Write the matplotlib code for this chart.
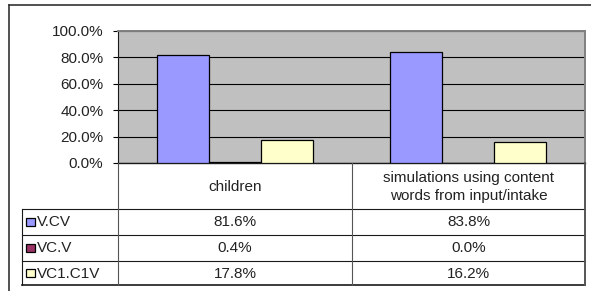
import matplotlib
matplotlib.use("Agg")
import matplotlib.pyplot as plt
from matplotlib.ticker import FuncFormatter

plt.rcParams["font.family"] = ["Liberation Sans", "DejaVu Sans"]

# ------------------------------------------------------------------
# Data
# ------------------------------------------------------------------
categories = ["children", "simulations using content\nwords from input/intake"]
series_names = ["V.CV", "VC.V", "VC1.C1V"]
v_cv = [81.6, 83.8]
vc_v = [0.4, 0.0]
vc1_c1v = [17.8, 16.2]
series_values = [v_cv, vc_v, vc1_c1v]
series_colors = ["#9999FF", "#993366", "#FFFFCC"]
yticks = [0, 20, 40, 60, 80, 100]

W, H = 591, 291
DPI = 100
FS = 11
LINE = "#1a1a1a"
TXT = "#222222"

fig = plt.figure(figsize=(W / DPI, H / DPI), dpi=DPI, facecolor="white")

# plot area in pixel coords
px_l, px_r, px_t, px_b = 118, 585, 31, 163
ax = fig.add_axes([px_l / W, 1 - px_b / H, (px_r - px_l) / W, (px_b - px_t) / H])
ax.set_facecolor("#C0C0C0")

bar_w = 52 / 234
for j, (vals, col) in enumerate(zip(series_values, series_colors)):
    xs = [i + (j - 1) * bar_w for i in range(len(categories))]
    ax.bar(xs, vals, width=bar_w, color=col, edgecolor="black",
           linewidth=0.9, zorder=3)

ax.set_xlim(-0.5, len(categories) - 0.5)
ax.set_ylim(0, 100)
ax.set_yticks(yticks)
ax.yaxis.set_major_formatter(FuncFormatter(lambda v, p: f"{v:.1f}%"))
ax.set_xticks([])
ax.tick_params(axis="y", length=3.6, width=0.8, pad=7, labelsize=FS,
               colors="black", labelcolor=TXT)
ax.grid(True, axis="y", color="black", linewidth=0.8, zorder=1)
ax.set_axisbelow(True)
for side in ("top", "right"):
    ax.spines[side].set_color("#808080")
    ax.spines[side].set_linewidth(1.4)
ax.spines["left"].set_color(LINE)
ax.spines["left"].set_linewidth(0.8)
ax.spines["bottom"].set_color(LINE)
ax.spines["bottom"].set_linewidth(1.0)

# ------------------------------------------------------------------
# Data table below the chart + outer frame (pixel overlay)
# ------------------------------------------------------------------
ov = fig.add_axes([0, 0, 1, 1])
ov.set_xlim(0, W)
ov.set_ylim(H, 0)
ov.axis("off")
ov.patch.set_visible(False)

# outer frame
ov.plot([9, W + 5], [5, 5], color="#333333", lw=1.2)
ov.plot([9, 9], [5, H + 5], color="#333333", lw=1.2)

col_x = [22, 118, 352, 585]
row_y = [163, 209, 235, 261, 285]

for y in row_y[1:]:
    ov.plot([col_x[0], col_x[-1]], [y, y], color=LINE,
            lw=1.2 if y == row_y[-1] else 0.8)
ov.plot([col_x[0], col_x[0]], [row_y[1], row_y[-1]], color=LINE, lw=0.8)
for x in col_x[1:]:
    ov.plot([x, x], [row_y[0], row_y[-1]], color="#555555",
            lw=0.8 if x != col_x[-1] else 1.4)

for i, cat in enumerate(categories):
    cx = (col_x[i + 1] + col_x[i + 2]) / 2
    ov.text(cx, (row_y[0] + row_y[1]) / 2 + 1, cat, ha="center", va="center",
            fontsize=FS, linespacing=1.3, color=TXT)

for r, (name, vals, col) in enumerate(zip(series_names, series_values,
                                          series_colors)):
    cy = (row_y[r + 1] + row_y[r + 2]) / 2
    ov.add_patch(plt.Rectangle((26, cy - 4.5), 8.5, 8.5, facecolor=col,
                               edgecolor="black", lw=0.9))
    ov.text(36.5, cy + 0.5, name, ha="left", va="center", fontsize=FS,
            color=TXT)
    for i, v in enumerate(vals):
        cx = (col_x[i + 1] + col_x[i + 2]) / 2
        ov.text(cx, cy + 0.5, f"{v:.1f}%", ha="center", va="center",
                fontsize=FS, color=TXT)

fig.savefig("out.png", dpi=DPI, facecolor="white")
